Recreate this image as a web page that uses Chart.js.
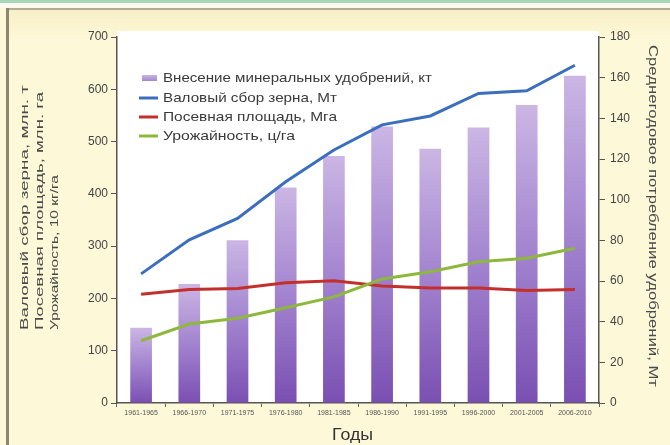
<!DOCTYPE html>
<html>
<head>
<meta charset="utf-8">
<script src="https://cdn.jsdelivr.net/npm/chart.js@4.4.1/dist/chart.umd.min.js"></script>
<style>
  html, body { margin: 0; padding: 0; background: #fdf8d8; }
  #wrap { width: 670px; height: 445px; position: relative; }
</style>
</head>
<body>
<div id="wrap"><canvas id="chart" width="670" height="445"></canvas></div>
<script>
// periods on the x axis
const periods = ["1961-1965", "1966-1970", "1971-1975", "1976-1980", "1981-1985",
                 "1986-1990", "1991-1995", "1996-2000", "2001-2005", "2006-2010"];

// fertilizer use, Mt (right axis)
const fertilizer = [37, 58.5, 80, 106, 121.5, 136, 125, 135.5, 146.5, 161];
// grain harvest, Mt (left axis)
const grain = [247, 312, 353, 423, 484, 532, 549, 592, 597, 646];
// sown area, Mha
const area = [208, 217, 219, 230, 234, 224, 220, 220, 215, 217];
// yield, 10 kg/ha
const yieldVals = [119, 151, 162, 182, 203, 237, 251, 270, 277, 296];

const leftTicks = [0, 100, 200, 300, 400, 500, 600, 700];
const rightTicks = [0, 20, 40, 60, 80, 100, 120, 140, 160, 180];

const seriesNames = ["Внесение минеральных удобрений, кт", "Валовый сбор зерна, Мт",
                     "Посевная площадь, Мга", "Урожайность, ц/га"];

const FONT = '"Liberation Sans", Arial, sans-serif';
const BLUE = "#3b6fbd", RED = "#c3302b", GREEN = "#8db83c";

function barFill(c) {
  const chart = c.chart;
  const ca = chart.chartArea;
  const s = chart.scales.y2;
  if (!ca || !s || c.type !== "data") return "#a68bd0";
  const top = s.getPixelForValue(c.raw);
  const bottom = s.getPixelForValue(0);
  const g = chart.ctx.createLinearGradient(0, top, 0, bottom);
  g.addColorStop(0, "#cbb6e4");
  g.addColorStop(0.5, "#a283cf");
  g.addColorStop(1, "#7a4fb2");
  return g;
}

// draws text stretched to a given length (the scan is stretched)
function drawStretched(ctx, text, x, y, len, rot) {
  ctx.save();
  ctx.translate(x, y);
  ctx.rotate(rot);
  const w = ctx.measureText(text).width;
  ctx.scale(len / w, 1);
  ctx.textAlign = "left";
  ctx.textBaseline = "middle";
  ctx.fillText(text, 0, 0);
  ctx.restore();
}

const panel = {
  id: "panel",
  beforeDraw(chart) {
    const ctx = chart.ctx, ca = chart.chartArea;
    ctx.save();
    ctx.fillStyle = "#fdf8d8";
    ctx.fillRect(0, 0, 670, 445);
    ctx.fillStyle = "#a9d6b6";
    ctx.fillRect(0, 0, 670, 3);
    ctx.fillStyle = "#fbfbf0";
    ctx.fillRect(0, 3, 670, 5);
    const g = ctx.createLinearGradient(0, 10, 0, 40);
    g.addColorStop(0, "#f8efc6");
    g.addColorStop(1, "#fdf8d8");
    ctx.fillStyle = g;
    ctx.fillRect(8, 10, 662, 30);
    ctx.fillStyle = "#b3aa98";
    ctx.fillRect(6, 8, 664, 2);
    ctx.fillStyle = "#8d8472";
    ctx.fillRect(6, 8, 3, 437);
    ctx.fillStyle = "#ffffff";
    ctx.fillRect(ca.left, ca.top - 6, ca.right - ca.left, ca.bottom - ca.top + 6);
    ctx.restore();
  },
  afterDraw(chart) {
    const ctx = chart.ctx;
    ctx.save();
    ctx.fillStyle = "#4a4a4a";
    ctx.font = "11px " + FONT;
    drawStretched(ctx, "Валовый сбор зерна, млн. т", 25, 330, 245, -Math.PI / 2);
    drawStretched(ctx, "Посевная площадь, млн. га", 40, 330, 238, -Math.PI / 2);
    drawStretched(ctx, "Урожайность, 10 кг/га", 55, 330, 155, -Math.PI / 2);
    ctx.font = "12px " + FONT;
    drawStretched(ctx, "Среднегодовое потребление удобрений, Мт", 652, 45, 342, Math.PI / 2);
    ctx.fillStyle = "#333";
    ctx.font = "16px " + FONT;
    drawStretched(ctx, "Годы", 332, 436, 41, 0);

    // legend inside the plot
    const rows = [78, 98, 117, 136];
    const lens = [269, 174, 174, 132];
    const cols = [null, BLUE, RED, GREEN];
    ctx.font = "13px " + FONT;
    rows.forEach((y, i) => {
      if (i === 0) {
        const g = ctx.createLinearGradient(0, y - 3, 0, y + 3);
        g.addColorStop(0, "#c9b4e3");
        g.addColorStop(1, "#a287cf");
        ctx.fillStyle = g;
        ctx.fillRect(142, y - 3, 15, 6);
      } else {
        ctx.strokeStyle = cols[i];
        ctx.lineWidth = 3;
        ctx.beginPath();
        ctx.moveTo(139, y);
        ctx.lineTo(158, y);
        ctx.stroke();
      }
      ctx.fillStyle = "#3a3a3a";
      drawStretched(ctx, seriesNames[i], 163, y, lens[i], 0);
    });
    ctx.restore();
  }
};

const lineStyle = (color) => ({
  type: "line",
  yAxisID: "y",
  borderColor: color,
  backgroundColor: color,
  borderWidth: 3,
  pointRadius: 0,
  tension: 0,
  fill: false
});

new Chart(document.getElementById("chart"), {
  data: {
    labels: periods,
    datasets: [
      { type: "bar", label: seriesNames[0], data: fertilizer, yAxisID: "y2",
        backgroundColor: barFill, borderWidth: 0,
        barPercentage: 0.45, categoryPercentage: 1, order: 5 },
      Object.assign(lineStyle(BLUE), { label: seriesNames[1], data: grain, order: 3 }),
      Object.assign(lineStyle(RED), { label: seriesNames[2], data: area, order: 2 }),
      Object.assign(lineStyle(GREEN), { label: seriesNames[3], data: yieldVals, order: 1 })
    ]
  },
  options: {
    responsive: false,
    animation: false,
    layout: { padding: { top: 37, left: 0, right: 0, bottom: 0 } },
    plugins: { legend: { display: false }, tooltip: { enabled: false } },
    scales: {
      x: {
        grid: { drawOnChartArea: false, offset: true, tickLength: 4, color: "#666", lineWidth: 1 },
        border: { color: "#555", width: 1.5 },
        ticks: { font: { size: 7, family: FONT }, color: "#555", padding: 2,
                 maxRotation: 0, autoSkip: false },
        afterFit(s) { s.height = 42; }
      },
      y: {
        position: "left",
        min: 0, max: 700,
        afterBuildTicks(s) { s.ticks = leftTicks.map(v => ({ value: v })); },
        grid: { drawOnChartArea: false, tickLength: 6, color: "#555" },
        border: { color: "#555", width: 1.5 },
        ticks: { font: { size: 12, family: FONT }, color: "#444", padding: 3 },
        afterFit(s) { s.width = 117; }
      },
      y2: {
        position: "right",
        min: 0, max: 180,
        afterBuildTicks(s) { s.ticks = rightTicks.map(v => ({ value: v })); },
        grid: { drawOnChartArea: false, tickLength: 6, color: "#555" },
        border: { color: "#555", width: 1.5 },
        ticks: { font: { size: 12, family: FONT }, color: "#444", padding: 5 },
        afterFit(s) { s.width = 71; }
      }
    }
  },
  plugins: [panel]
});
</script>
</body>
</html>
